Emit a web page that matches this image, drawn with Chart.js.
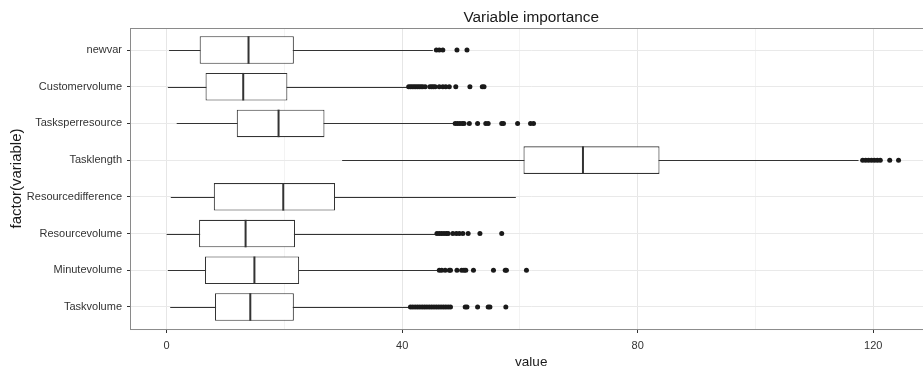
<!DOCTYPE html>
<html>
<head>
<meta charset="utf-8">
<script src="https://cdn.jsdelivr.net/npm/chart.js@4/dist/chart.umd.min.js"></script>
<style>
  html, body { margin: 0; padding: 0; background: #ffffff; overflow: hidden; }
  #wrap { width: 923px; height: 374px; overflow: hidden; position: relative; }
  #c { position: absolute; left: 0; top: 0; }
</style>
</head>
<body>
<div id="wrap"><canvas id="c" width="934" height="374"></canvas></div>
<script>
// ---- data ----
const categories = ['newvar', 'Customervolume', 'Tasksperresource', 'Tasklength',
                    'Resourcedifference', 'Resourcevolume', 'Minutevolume', 'Taskvolume'];
const whiskerLow  = [0.4, 0.2, 1.7, 29.8, 0.7, 0.0, 0.2, 0.6];
const q1          = [5.6, 6.6, 11.9, 60.6, 8.0, 5.5, 6.5, 8.2];
const median      = [13.9, 13.0, 19.0, 70.7, 19.8, 13.4, 14.9, 14.2];
const q3          = [21.6, 20.5, 26.8, 83.7, 28.6, 21.8, 22.5, 21.6];
const whiskerHigh = [45.2, 41.0, 48.8, 117.5, 59.3, 45.7, 46.0, 41.2];

const outNewvar = [45.8, 46.3, 46.9, 49.3, 51.0];
const outCustomervolume = [41.1, 41.4, 41.7, 42.0, 42.3, 42.6, 42.9, 43.2, 43.5, 43.9,
                           44.7, 45.0, 45.3, 45.6, 46.3, 46.9, 47.4, 48.0, 49.1, 51.5, 53.6, 53.9];
const outTasksperresource = [49.0, 49.4, 49.8, 50.2, 50.5, 51.4, 52.8, 54.2, 54.6, 56.9, 57.2,
                             59.6, 61.8, 62.3];
const outTasklength = [118.2, 118.7, 119.2, 119.7, 120.2, 120.7, 121.2, 122.8, 124.3];
const outResourcedifference = [];
const outResourcevolume = [45.9, 46.3, 46.7, 47.1, 47.5, 47.8, 48.6, 49.2, 49.7, 50.3, 51.2,
                           53.2, 56.9];
const outMinutevolume = [46.3, 46.7, 47.3, 48.0, 48.2, 49.3, 50.1, 50.5, 50.8, 52.1, 55.5,
                         57.5, 57.7, 61.1];
const outTaskvolume = [41.4, 41.8, 42.2, 42.6, 43.0, 43.4, 43.8, 44.2, 44.6, 45.0, 45.4, 45.8,
                       46.2, 46.6, 47.0, 47.4, 47.8, 48.2, 50.7, 51.0, 52.8, 54.6, 54.9, 57.6];
const outliers = [outNewvar, outCustomervolume, outTasksperresource, outTasklength,
                  outResourcedifference, outResourcevolume, outMinutevolume, outTaskvolume];

const xTicks = [0, 20, 40, 60, 80, 100, 120];
const xMajor = [0, 40, 80, 120];
const xMin = -6.06;          // left limit of the panel (ggplot expansion)
const xPxPerUnit = 5.888;    // panel scale

// ---- build datasets from arrays ----
const boxData = categories.map((c, i) => ({ y: i, x: [q1[i], q3[i]] }));
const outlierData = [];
outliers.forEach((arr, i) => arr.forEach(v => outlierData.push({ x: v, y: i })));

const FONT = "'Liberation Sans', Arial, sans-serif";
const INK = '#333333';

const boxPlugin = {
  id: 'boxParts',
  beforeDatasetsDraw(chart) {
    const { ctx, scales: { x, y } } = chart;
    ctx.save();
    ctx.strokeStyle = INK;
    ctx.lineWidth = 1.1;
    categories.forEach((c, i) => {
      const py = Math.round(y.getPixelForValue(i)) + 0.5;
      ctx.beginPath();
      ctx.moveTo(x.getPixelForValue(whiskerLow[i]), py);
      ctx.lineTo(x.getPixelForValue(whiskerHigh[i]), py);
      ctx.stroke();
    });
    ctx.restore();
  },
  afterDatasetsDraw(chart) {
    const { ctx, chartArea, scales: { x } } = chart;
    const meta = chart.getDatasetMeta(0);
    ctx.save();
    ctx.strokeStyle = INK;
    ctx.lineWidth = 2;
    categories.forEach((c, i) => {
      const el = meta.data[i];
      const h = el.height;
      const px = x.getPixelForValue(median[i]);
      ctx.beginPath();
      ctx.moveTo(px, el.y - h / 2);
      ctx.lineTo(px, el.y + h / 2);
      ctx.stroke();
    });
    // panel border
    ctx.strokeStyle = '#8a8a8a';
    ctx.lineWidth = 1;
    ctx.strokeRect(Math.round(chartArea.left) - 0.5, Math.round(chartArea.top) + 0.5,
                   chartArea.right - chartArea.left + 1, chartArea.bottom - chartArea.top);
    ctx.restore();
  }
};

new Chart(document.getElementById('c'), {
  data: {
    datasets: [
      {
        type: 'bar',
        indexAxis: 'y',
        data: boxData,
        backgroundColor: '#ffffff',
        borderColor: INK,
        borderWidth: 1.1,
        borderSkipped: false,
        barPercentage: 0.75,
        categoryPercentage: 1
      },
      {
        type: 'scatter',
        data: outlierData,
        backgroundColor: '#1a1a1a',
        borderWidth: 0,
        pointRadius: 2.5,
        pointHoverRadius: 2.5
      }
    ]
  },
  options: {
    responsive: false,
    devicePixelRatio: 1,
    animation: false,
    events: [],
    layout: { padding: 0 },
    plugins: {
      legend: { display: false },
      tooltip: { enabled: false },
      title: {
        display: true,
        text: 'Variable importance',
        fullSize: false,
        color: '#1a1a1a',
        font: { family: FONT, size: 15.4, weight: 'normal' },
        padding: { top: 9, bottom: 0.5 }
      }
    },
    scales: {
      x: {
        type: 'linear',
        position: 'bottom',
        offset: false,
        bounds: 'data',
        afterBuildTicks: s => {
          s.ticks = xTicks.map(v => ({ value: v }));
          s.min = xMin;
          s.max = xMin + (s.width || s.maxWidth) / xPxPerUnit;
        },
        afterFit: s => { s.height = 45; s.paddingLeft = 0; s.paddingRight = 0; },
        ticks: {
          callback: v => xMajor.includes(v) ? String(v) : '',
          color: INK,
          font: { family: FONT, size: 11 },
          padding: 6,
          maxRotation: 0,
          autoSkip: false
        },
        grid: {
          offset: false,
          color: ctx => (ctx.tick && xMajor.includes(ctx.tick.value)) ? '#e6e6e6' : '#f3f3f3',
          tickColor: ctx => (ctx.tick && xMajor.includes(ctx.tick.value)) ? INK : 'rgba(0,0,0,0)',
          tickLength: 4,
          lineWidth: 1
        },
        border: { display: false },
        title: {
          display: true,
          text: 'value',
          color: '#1a1a1a',
          font: { family: FONT, size: 13.5 },
          padding: { top: 0, bottom: 4 }
        }
      },
      y: {
        type: 'linear',
        position: 'left',
        reverse: true,
        offset: false,
        min: -0.6,
        max: 7.6,
        afterBuildTicks: s => { s.ticks = categories.map((c, i) => ({ value: i })); },
        afterFit: s => { s.width = 131; s.paddingTop = 0; s.paddingBottom = 0; },
        ticks: {
          callback: v => categories[v],
          color: INK,
          font: { family: FONT, size: 11 },
          padding: 5,
          autoSkip: false
        },
        grid: {
          offset: false,
          color: '#e9e9e9',
          tickColor: INK,
          tickLength: 4,
          lineWidth: 1
        },
        border: { display: false },
        title: {
          display: true,
          text: 'factor(variable)',
          color: '#1a1a1a',
          font: { family: FONT, size: 15 },
          padding: { top: 8, bottom: 0 }
        }
      }
    }
  },
  plugins: [boxPlugin]
});
</script>
</body>
</html>
